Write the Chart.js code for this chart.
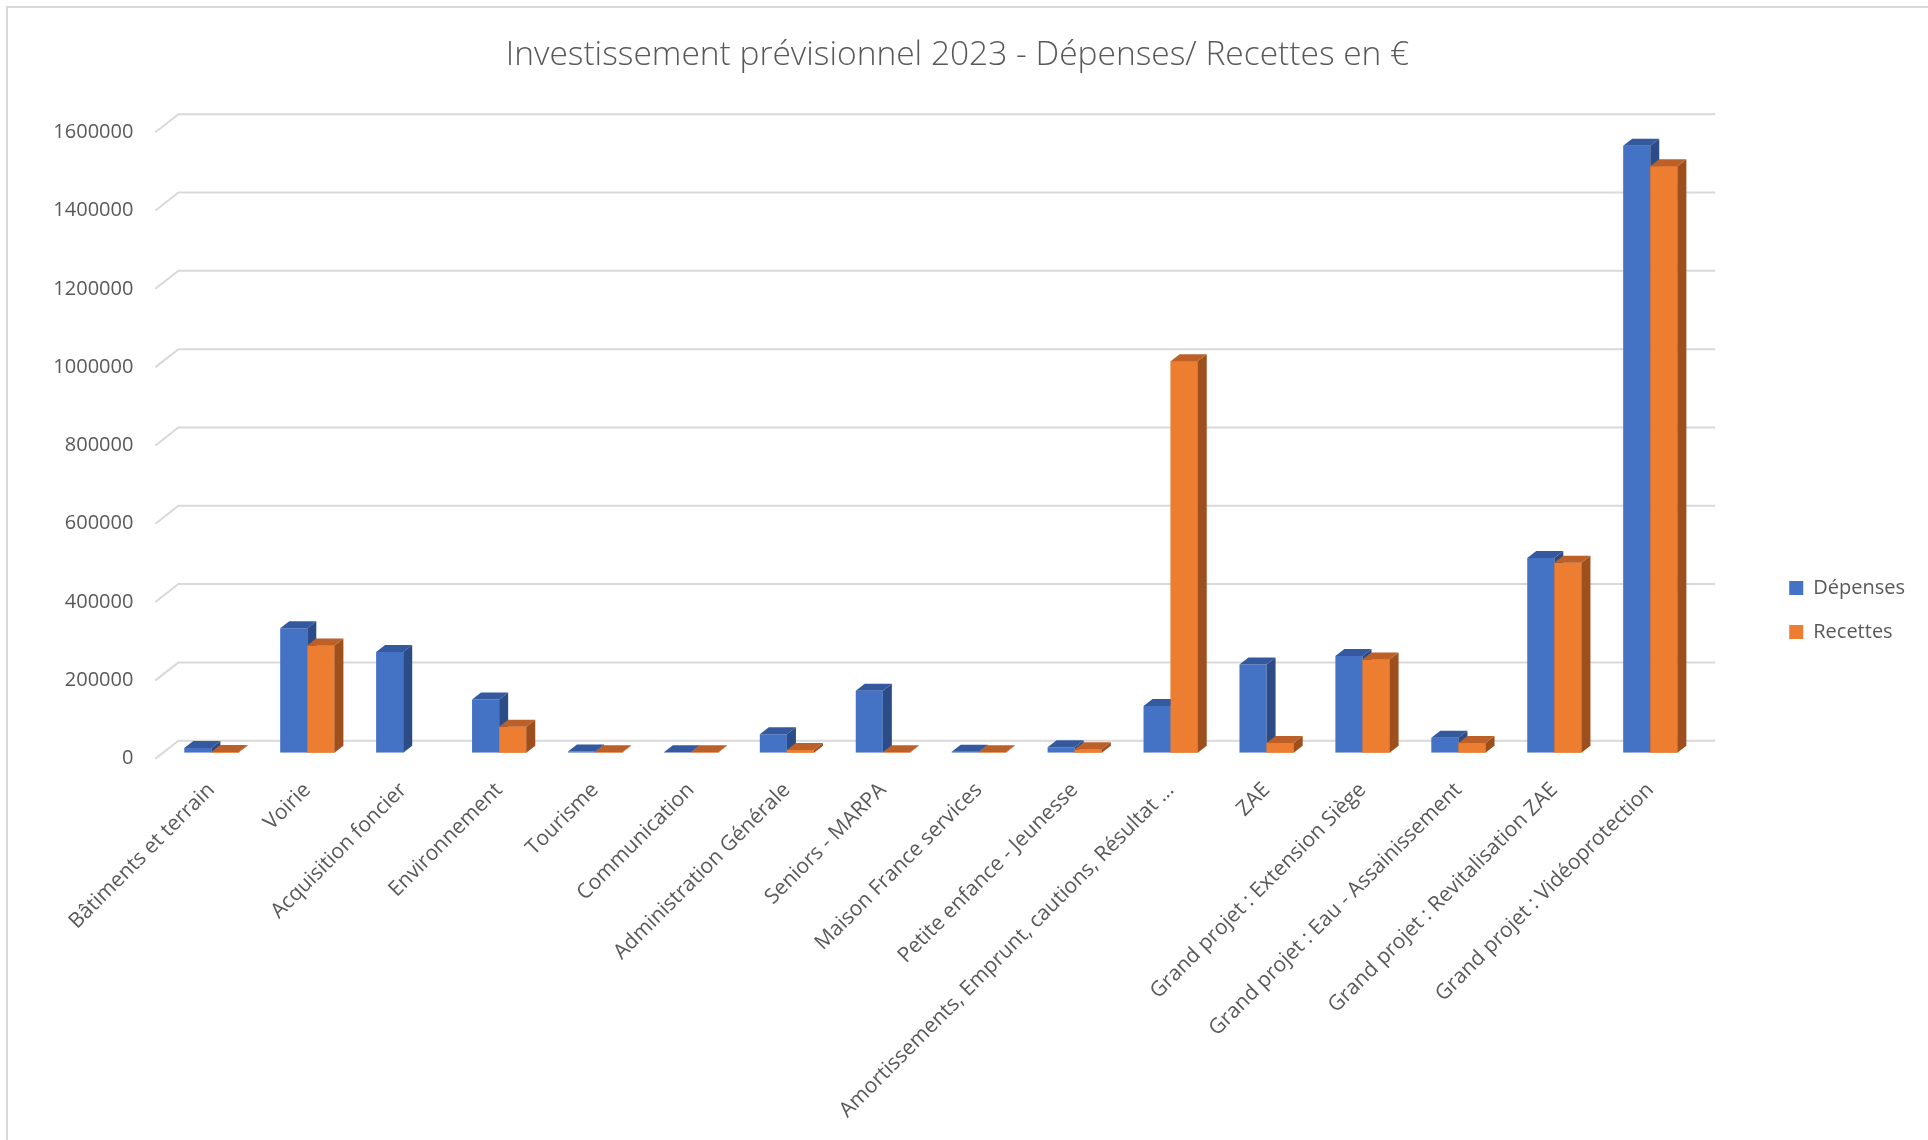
<!DOCTYPE html>
<html lang="fr">
<head>
<meta charset="utf-8">
<title>Investissement prévisionnel 2023</title>
<script src="https://cdn.jsdelivr.net/npm/chart.js@4.4.1/dist/chart.umd.min.js"></script>
<style>
    html, body { margin: 0; padding: 0; background: #ffffff; }
    #wrap { position: relative; width: 1928px; height: 1140px; }
</style>
</head>
<body>
<div id="wrap"><canvas id="investChart" width="1928" height="1140"></canvas></div>
<script>
// Categories, values and tick labels
const categories = [
    'Bâtiments et terrain',
    'Voirie',
    'Acquisition foncier',
    'Environnement',
    'Tourisme',
    'Communication',
    'Administration Générale',
    'Seniors - MARPA',
    'Maison France services',
    'Petite enfance - Jeunesse',
    'Amortissements, Emprunt, cautions, Résultat ...',
    'ZAE',
    'Grand projet : Extension Siège',
    'Grand projet : Eau - Assainissement',
    'Grand projet : Revitalisation ZAE',
    'Grand projet : Vidéoprotection'
];
const depenses = [12000, 318000, 257000, 136000, 3000, 1000, 47000, 158000, 2500, 14000, 119000, 225000, 247000, 38000, 497000, 1550000];
const recettes = [2000, 274000, null, 66000, 1000, 1000, 7000, 1000, 1000, 8500, 1000000, 25000, 238000, 25000, 485000, 1498000];
const yTicks = [0, 200000, 400000, 600000, 800000, 1000000, 1200000, 1400000, 1600000];

const titleText = 'Investissement prévisionnel 2023 - Dépenses/ Recettes en €';

// face colours: front / top / side
const faces = [
    { front: '#4472C4', top: '#34599e', side: '#2c4c87' },
    { front: '#ED7D31', top: '#bd6027', side: '#9d4f1d' }
];

// 3D look: bar depth offsets
const barDx = 9, barDy = -7;

const columns3d = {
    id: 'columns3d',
    beforeDraw(chart) {
        const ctx = chart.ctx;
        ctx.save();
        ctx.fillStyle = '#ffffff';
        ctx.fillRect(0, 0, chart.width, chart.height);
        // chart frame (only left and top edges are inside the picture)
        ctx.strokeStyle = '#d9d9d9';
        ctx.lineWidth = 2;
        ctx.beginPath();
        ctx.moveTo(7, chart.height);
        ctx.lineTo(7, 7);
        ctx.lineTo(chart.width, 7);
        ctx.stroke();
        ctx.restore();
    },
    beforeDatasetsDraw(chart) {
        // back wall gridlines + floor diagonals on the left
        const { ctx, chartArea, scales: { y } } = chart;
        ctx.save();
        ctx.strokeStyle = '#d9d9d9';
        ctx.lineWidth = 2;
        y.ticks.forEach(t => {
            const py = y.getPixelForValue(t.value);
            ctx.beginPath();
            ctx.moveTo(chartArea.left - 8, py + 6);
            ctx.lineTo(chartArea.left + 15, py - 12);
            ctx.lineTo(chartArea.right + 17, py - 12);
            ctx.stroke();
        });
        ctx.restore();
    },
    afterDatasetsDraw(chart) {
        const ctx = chart.ctx;
        const poly = pts => {
            ctx.beginPath();
            ctx.moveTo(pts[0], pts[1]);
            for (let k = 2; k < pts.length; k += 2) ctx.lineTo(pts[k], pts[k + 1]);
            ctx.closePath();
            ctx.fill();
        };
        ctx.save();
        categories.forEach((c, i) => {
            [0, 1].forEach(d => {
                const val = chart.data.datasets[d].data[i];
                const bar = chart.getDatasetMeta(d).data[i];
                if (val === null || !bar) return;
                const { x, y, base, width } = bar.getProps(['x', 'y', 'base', 'width'], true);
                const l = x - width / 2, r = x + width / 2;
                if (d === 1) {
                    // orange front hides the blue side face
                    ctx.fillStyle = faces[d].front;
                    ctx.fillRect(l, y, width, base - y);
                }
                ctx.fillStyle = faces[d].side;
                poly([r, y, r + barDx, y + barDy, r + barDx, base + barDy, r, base]);
                ctx.fillStyle = faces[d].top;
                poly([l, y, l + barDx, y + barDy, r + barDx, y + barDy, r, y]);
            });
        });
        ctx.restore();
    }
};

Chart.defaults.font.family = "'Open Sans', sans-serif";
Chart.defaults.color = '#595959';

new Chart(document.getElementById('investChart'), {
    type: 'bar',
    data: {
        labels: categories,
        datasets: [
            {
                label: 'Dépenses',
                data: depenses,
                backgroundColor: faces[0].front,
                borderWidth: 0,
                categoryPercentage: 0.565,
                barPercentage: 1.0
            },
            {
                label: 'Recettes',
                data: recettes,
                backgroundColor: faces[1].front,
                borderWidth: 0,
                categoryPercentage: 0.565,
                barPercentage: 1.0
            }
        ]
    },
    options: {
        responsive: false,
        animation: false,
        layout: {
            // negative bottom lets the legend centre sit lower, like in Excel
            padding: { top: 0, left: 0, right: 13, bottom: -80 }
        },
        plugins: {
            title: {
                display: true,
                text: titleText,
                color: '#595959',
                font: { size: 33.5, weight: '300' },
                padding: { top: 35.5, bottom: 50.5 }
            },
            legend: {
                position: 'right',
                align: 'center',
                labels: {
                    boxWidth: 14,
                    boxHeight: 14,
                    padding: 24,
                    color: '#595959',
                    font: { size: 20 }
                }
            },
            tooltip: { enabled: false }
        },
        scales: {
            x: {
                grid: { display: false, drawTicks: false },
                border: { display: false },
                ticks: {
                    autoSkip: false,
                    minRotation: 45,
                    maxRotation: 45,
                    padding: 25,
                    color: '#595959',
                    font: { size: 21 }
                },
                afterFit(scale) {
                    scale.height = 467.3;
                }
            },
            y: {
                min: 0,
                max: 1600000,
                grid: { display: false, drawTicks: false },
                border: { display: false },
                afterBuildTicks(scale) {
                    scale.ticks = yTicks.map(v => ({ value: v }));
                },
                ticks: {
                    padding: 30,
                    labelOffset: 6,
                    color: '#595959',
                    font: { size: 20 },
                    callback: function (value) {
                        return String(value);
                    }
                },
                afterFit(scale) {
                    scale.width = 163.4;
                }
            },
            gap: {
                position: 'right',
                display: true,
                grid: { display: false, drawTicks: false },
                border: { display: false },
                ticks: { display: false },
                afterFit(scale) {
                    scale.width = 67;
                }
            }
        }
    },
    plugins: [columns3d]
});
</script>
</body>
</html>
